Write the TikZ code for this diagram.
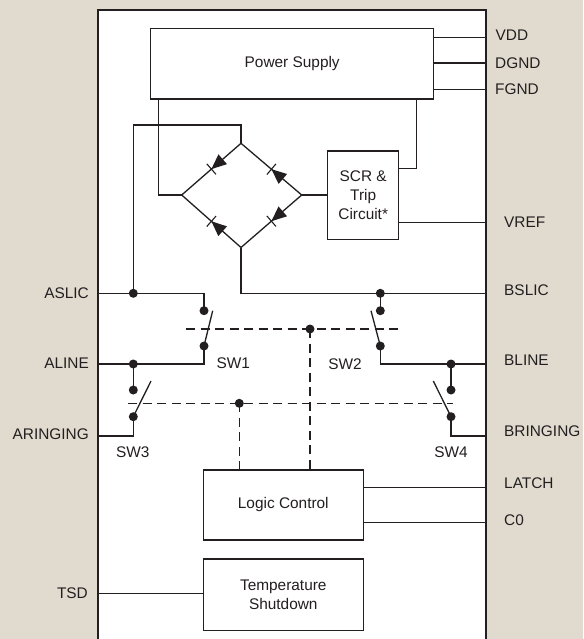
\documentclass[tikz,border=0pt]{standalone}
\usepackage{fontspec}
\setmainfont{Liberation Sans}
\usepackage{tikz}
\usetikzlibrary{calc, positioning, decorations.markings}
\definecolor{panel}{RGB}{225,219,207}
\definecolor{ink}{RGB}{35,31,32}
\tikzstyle{block} = [rectangle, line width=1.3pt, draw=ink, fill=white, text=ink, align=center, inner sep=0pt]
\tikzstyle{wire} = [line width=1.3pt, draw=ink]
\tikzstyle{ctrl} = [line width=1.3pt, draw=ink, dash pattern=on 9pt off 5.5pt]
\tikzstyle{dot} = [circle, fill=ink, inner sep=0pt, minimum size=9pt]
\tikzstyle{pinlabel} = [inner sep=0pt, text=ink]
\tikzstyle{diode} = [line width=1.3pt, draw=ink, postaction={decorate}, decoration={markings, mark=at position 0.5 with {\fill [ink] (0pt,0pt) -- (-15pt,6.5pt) -- (-15pt,-6.5pt) -- cycle; \draw [ink, line width=1.1pt] (0pt,-7pt) -- (0pt,7pt);}}]
\begin{document}
\begin{tikzpicture}[x=1pt, y=-1pt, node distance = 10pt, font=\fontsize{15.4}{18.7}\selectfont]
	\useasboundingbox (0,0) rectangle (583,639);
	\fill [panel] (0,0) rectangle (583,639);
	\filldraw [fill=white, draw=ink, line width=1.8pt] (98,645) -- (98,10) -- (486,10) -- (486,645);
	\node (Supply) [block, minimum width=283pt, minimum height=70.7pt] at (292.2,63.7) {Power Supply};
	\node (Scr) [block, minimum width=71pt, minimum height=88.3pt] at (363.2,195.2) {SCR \&\\Trip\\Circuit*};
	\node (Logic) [block, minimum width=160pt, minimum height=70pt] at (283.3,505) {Logic Control};
	\node (Temp) [block, below = 17.7pt of Logic, minimum width=160pt, minimum height=71.3pt] {Temperature\\Shutdown};
	\coordinate (BridgeTop) at (241,143.3);
	\coordinate (BridgeLeft) at (181.7,195);
	\coordinate (BridgeRight) at (301.7,195);
	\coordinate (BridgeBottom) at (241,247.5);
	\coordinate (Vdd) at (486,37.3);
	\coordinate (Dgnd) at (486,63);
	\coordinate (Fgnd) at (486,89.3);
	\coordinate (Vref) at (486,222.5);
	\coordinate (Aslic) at (98,293.3);
	\coordinate (Aline) at (98,364);
	\coordinate (Aringing) at (98,436);
	\coordinate (Bslic) at (486,293.3);
	\coordinate (Bline) at (486,364);
	\coordinate (Bringing) at (486,436);
	\coordinate (Latch) at (486,487.3);
	\coordinate (Czero) at (486,522.3);
	\coordinate (Tsd) at (98,593.3);
	\coordinate (UpperL) at (186,329);
	\coordinate (UpperR) at (399,329);
	\coordinate (LowerL) at (128,403.3);
	\coordinate (LowerR) at (453,403.3);
	\node (VddText) [pinlabel, right = 9.5pt of Vdd, yshift=2pt] {VDD};
	\node (DgndText) [pinlabel, right = 9pt of Dgnd] {DGND};
	\node (FgndText) [pinlabel, right = 9pt of Fgnd] {FGND};
	\node (VrefText) [pinlabel, right = 18pt of Vref] {VREF};
	\node (AslicText) [pinlabel, left = 9pt of Aslic] {ASLIC};
	\node (AlineText) [pinlabel, left = 9pt of Aline, yshift=1pt] {ALINE};
	\node (AringingText) [pinlabel, left = 9pt of Aringing, yshift=2pt] {ARINGING};
	\node (BslicText) [pinlabel, right = 18pt of Bslic, yshift=3pt] {BSLIC};
	\node (BlineText) [pinlabel, right = 18pt of Bline, yshift=4pt] {BLINE};
	\node (BringingText) [pinlabel, right = 18pt of Bringing, yshift=5pt] {BRINGING};
	\node (LatchText) [pinlabel, right = 18pt of Latch, yshift=4.5pt] {LATCH};
	\node (CzeroText) [pinlabel, right = 18pt of Czero, yshift=2pt] {C0};
	\node (TsdText) [pinlabel, left = 10pt of Tsd] {TSD};
	\node (Sw1Text) [text=ink] at (233.3,363.3) {SW1};
	\node (Sw2Text) [text=ink] at (345,364) {SW2};
	\node (Sw3Text) [text=ink] at (132.7,452) {SW3};
	\node (Sw4Text) [text=ink] at (451,452) {SW4};
	\draw [diode] (BridgeTop) -- (BridgeLeft);
	\draw [diode] (BridgeRight) -- (BridgeTop);
	\draw [diode] (BridgeRight) -- (BridgeBottom);
	\draw [diode] (BridgeBottom) -- (BridgeLeft);
	\node (Sw1Top) [dot] at (204,310.7) {};
	\node (Sw1Bot) [dot] at (204,346) {};
	\node (Sw2Top) [dot] at (380.3,310.7) {};
	\node (Sw2Bot) [dot] at (380.3,346) {};
	\node (Sw3Top) [dot] at (133.3,390) {};
	\node (Sw3Bot) [dot] at (133.3,416.7) {};
	\node (Sw4Top) [dot] at (451,390) {};
	\node (Sw4Bot) [dot] at (451,416.7) {};
	\node (AslicDot) [dot] at (133.3,293.3) {};
	\node (AlineDot) [dot] at (133.3,364) {};
	\node (BslicDot) [dot] at (380.3,293.3) {};
	\node (BlineDot) [dot] at (451,364) {};
	\node (UpperDot) [dot] at (310,329) {};
	\node (LowerDot) [dot] at (239.3,403.3) {};
	\draw [wire] ([xshift=8.6pt]Supply.south west) |- (BridgeLeft);
	\draw [wire] ([xshift=-18pt]Supply.south east) |- ([yshift=-18pt]Scr.north east);
	\draw [wire] (BridgeRight) -- (BridgeRight -| Scr.west);
	\draw [wire] (Supply.east |- Vdd) -- (Vdd);
	\draw [wire] (Supply.east |- Dgnd) -- (Dgnd);
	\draw [wire] (Supply.east |- Fgnd) -- (Fgnd);
	\draw [wire] (Scr.east |- Vref) -- (Vref);
	\draw [wire] (Aslic) -| (Sw1Top.center);
	\draw [wire] (AslicDot.center) -- ++(0,-168.3) -| (BridgeTop);
	\draw [wire] (Aline) -| (Sw1Bot.center);
	\draw [wire] (AlineDot.center) -- (Sw3Top.center);
	\draw [wire] (Aringing) -| (Sw3Bot.center);
	\draw [wire] (Bslic) -| (BridgeBottom);
	\draw [wire] (BslicDot.center) -- (Sw2Top.center);
	\draw [wire] (Bline) -| (Sw2Bot.center);
	\draw [wire] (BlineDot.center) -- (Sw4Top.center);
	\draw [wire] (Bringing) -| (Sw4Bot.center);
	\draw [wire] (Sw1Bot.center) -- ++(8.7,-35.3);
	\draw [wire] (Sw2Bot.center) -- ++(-9.3,-35.3);
	\draw [wire] (Sw3Bot.center) -- ++(17.7,-35.7);
	\draw [wire] (Sw4Bot.center) -- ++(-17.7,-35.7);
	\draw [ctrl] (UpperL) -- (UpperR);
	\draw [ctrl] (LowerL) -- (LowerR);
	\draw [ctrl] (UpperDot.center) -- (UpperDot.center |- Logic.north);
	\draw [ctrl] (LowerDot.center) -- (LowerDot.center |- Logic.north);
	\draw [wire] (Logic.east |- Latch) -- (Latch);
	\draw [wire] (Logic.east |- Czero) -- (Czero);
	\draw [wire] (Tsd) -- (Tsd -| Temp.west);
\end{tikzpicture}
\end{document}
